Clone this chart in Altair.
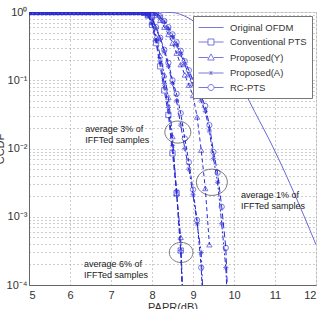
import altair as alt
import pandas as pd

# ---------------- data ----------------
# all PTS curves sit at CCDF = 1 over this PAPR range
plateau_x = [5.0, 5.1, 5.2, 5.3, 5.4, 5.5, 5.6, 5.7, 5.8, 5.9, 6.0, 6.1, 6.2, 6.3,
             6.4, 6.5, 6.6, 6.7, 6.8, 6.9, 7.0, 7.1, 7.2, 7.3, 7.4, 7.5, 7.6, 7.7]

orig_x = [5.0, 8.0, 8.5, 8.8, 9.0, 9.2, 9.5, 9.8, 10.0, 10.27, 10.5, 10.95, 11.5, 12.0]
orig_y = [1.0, 1.0, 0.98, 0.87, 0.74, 0.56, 0.35, 0.2, 0.13, 0.065, 0.035, 0.0105, 0.002, 0.00039]

grpA_x = [7.8, 7.9, 8.0, 8.1, 8.2, 8.3, 8.4, 8.5, 8.6, 8.7, 8.8]
convA_y = [0.98, 0.89, 0.65, 0.35, 0.16, 0.071, 0.031, 0.0085, 0.0022, 0.00032, 1e-5]
propYA_y = [0.98, 0.91, 0.71, 0.43, 0.23, 0.12, 0.056, 0.015, 0.0022, 0.0005, 1e-5]
propAA_y = [0.98, 0.89, 0.68, 0.38, 0.19, 0.089, 0.040, 0.011, 0.0024, 0.00032, 1e-5]

grpB_x = [7.8, 7.9, 8.0, 8.1, 8.2, 8.3, 8.4, 8.5, 8.6, 8.7, 8.8, 8.9, 9.0, 9.1, 9.2, 9.3]
rcB_y = [0.98, 0.95, 0.83, 0.60, 0.42, 0.28, 0.18, 0.10, 0.063, 0.033, 0.014, 0.0063,
         0.0025, 0.00089, 0.00018, 1e-5]
propAB_y = [0.98, 0.95, 0.80, 0.57, 0.40, 0.26, 0.16, 0.09, 0.050, 0.022, 0.010, 0.0050,
            0.0021, 0.00079, 0.0003, 1e-5]

grpC_tri_x = [7.8, 7.9, 8.0, 8.1, 8.2, 8.3, 8.4, 8.5, 8.6, 8.7, 8.8, 8.9, 9.0, 9.1, 9.2, 9.3, 9.4]
propYC_y = [1.0, 0.99, 0.97, 0.89, 0.76, 0.60, 0.47, 0.35, 0.25, 0.17, 0.12, 0.085, 0.060,
            0.029, 0.0095, 0.0026, 0.00039]

grpC_x = [7.8, 7.9, 8.0, 8.1, 8.2, 8.3, 8.4, 8.5, 8.6, 8.7, 8.8, 8.9, 9.0, 9.1, 9.2, 9.3,
          9.4, 9.5, 9.6, 9.7, 9.8, 9.9]
propAC_y = [1.0, 1.0, 0.99, 0.95, 0.85, 0.71, 0.56, 0.43, 0.33, 0.24, 0.17, 0.12, 0.085,
            0.065, 0.050, 0.035, 0.018, 0.0071, 0.0032, 0.00079, 0.00018, 1e-5]
rcC_y = [1.0, 1.0, 0.99, 0.96, 0.87, 0.74, 0.60, 0.47, 0.36, 0.27, 0.19, 0.14, 0.10,
         0.075, 0.058, 0.042, 0.022, 0.0089, 0.0044, 0.0014, 0.00035, 1e-5]

legend_labels = ["Original OFDM", "Conventional PTS", "Proposed(Y)", "Proposed(A)", "RC-PTS"]
marker_methods = ["Conventional PTS", "Proposed(Y)", "Proposed(A)", "RC-PTS"]

y_ticks = [1e-4, 2e-4, 3e-4, 4e-4, 5e-4, 6e-4, 7e-4, 8e-4, 9e-4,
           1e-3, 2e-3, 3e-3, 4e-3, 5e-3, 6e-3, 7e-3, 8e-3, 9e-3,
           1e-2, 2e-2, 3e-2, 4e-2, 5e-2, 6e-2, 7e-2, 8e-2, 9e-2,
           0.1, 0.2, 0.3, 0.4, 0.5, 0.6, 0.7, 0.8, 0.9, 1.0]
x_ticks = [5, 6, 7, 8, 9, 10, 11, 12]

note_text = ["average 3% of\nIFFTed samples", "average 1% of\nIFFTed samples",
             "average 6% of\nIFFTed samples"]
note_x = [6.37, 10.17, 6.34]
note_y = [0.0196, 0.0021, 0.0002]

ring_x = [8.63, 9.46, 8.71]
ring_y = [0.0174, 0.0032, 0.0003]
ring_size = [676, 961, 560]

# ---------------- build tables ----------------
series = [
    ("A-conv", "Conventional PTS", grpA_x, convA_y),
    ("A-propY", "Proposed(Y)", grpA_x, propYA_y),
    ("A-propA", "Proposed(A)", grpA_x, propAA_y),
    ("B-rc", "RC-PTS", grpB_x, rcB_y),
    ("B-propA", "Proposed(A)", grpB_x, propAB_y),
    ("C-propY", "Proposed(Y)", grpC_tri_x, propYC_y),
    ("C-propA", "Proposed(A)", grpC_x, propAC_y),
    ("C-rc", "RC-PTS", grpC_x, rcC_y),
]
rows = []
for sid, meth, xs, ys in series:
    for px in plateau_x:
        rows.append({"series": sid, "method": meth, "papr": px, "ccdf": 1.0})
    for px, py in zip(xs, ys):
        rows.append({"series": sid, "method": meth, "papr": px, "ccdf": py})
pts = pd.DataFrame(rows)
orig = pd.DataFrame({"papr": orig_x, "ccdf": orig_y})
notes = pd.DataFrame({"papr": note_x, "ccdf": note_y, "txt": note_text})
rings = pd.DataFrame({"papr": ring_x, "ccdf": ring_y, "sz": ring_size})
leg = pd.DataFrame({"method": legend_labels, "papr": [5.0] * 5, "ccdf": [1.0] * 5})

BLUE = "#2b2bd6"
FONT = "Liberation Sans"

xs = alt.Scale(domain=[5, 12], nice=False, zero=False)
ys = alt.Scale(type="log", domain=[1e-4, 1], nice=False)

label_expr = ("datum.value > 0.99 ? '10⁰' : abs(datum.value-0.1) < 1e-9 ? '10⁻¹' : "
              "abs(datum.value-0.01) < 1e-10 ? '10⁻²' : abs(datum.value-0.001) < 1e-11 ? '10⁻³' : "
              "abs(datum.value-0.0001) < 1e-12 ? '10⁻⁴' : ''")

X = alt.X("papr:Q", scale=xs, title="PAPR(dB)",
          axis=alt.Axis(values=x_ticks, format="d", grid=True, gridDash=[1, 3],
                        gridColor="#9a9a9a", ticks=False, labelPadding=4,
                        labelFontSize=11, labelColor="#333", labelFont=FONT,
                        titleFont=FONT, titleFontSize=11, titleFontWeight="normal",
                        titleColor="#333", titlePadding=1, domainColor="#666"))
Y = alt.Y("ccdf:Q", scale=ys, title="CCDF",
          axis=alt.Axis(values=y_ticks, labelExpr=label_expr, grid=True, gridDash=[1, 3],
                        gridColor="#9a9a9a", ticks=False, labelOverlap=False,
                        labelPadding=2, labelFontSize=11, labelColor="#333", labelFont=FONT,
                        titleFont=FONT, titleFontSize=11, titleFontWeight="normal",
                        titleColor="#333", titlePadding=1, domainColor="#666"))

orig_line = alt.Chart(orig).mark_line(color="#6a6ad8", strokeWidth=1, clip=True,
                                      interpolate="monotone").encode(x=X, y=Y)

dash_dom = [s[0] for s in series]
dash_rng = [[5, 3], [6, 2, 2, 2], [5, 3], [4, 2], [6, 3, 2, 3], [4, 3], [5, 2, 2, 2], [6, 3]]
lines = alt.Chart(pts).mark_line(color=BLUE, strokeWidth=1, clip=True).encode(
    x=X, y=Y, detail="series:N",
    strokeDash=alt.StrokeDash("series:N", scale=alt.Scale(domain=dash_dom, range=dash_rng),
                              legend=None))

star_path = "M-1,0L1,0M0,-1L0,1M-0.7,-0.7L0.7,0.7M-0.7,0.7L0.7,-0.7"
points = alt.Chart(pts).mark_point(color=BLUE, filled=False, size=28, strokeWidth=0.9,
                                   clip=True).encode(
    x=X, y=Y,
    shape=alt.Shape("method:N", scale=alt.Scale(domain=marker_methods,
                                                range=["square", "triangle-up", star_path, "circle"]),
                    legend=None))

# legend symbols: a 25 px line with the marker; unit = 6 px (symbol size 144)
leg_paths = [
    "M-1,0L3.17,0",
    "M-1,0L0.58,0M1.58,0L3.17,0M0.58,-0.5L1.58,-0.5L1.58,0.5L0.58,0.5Z",
    "M-1,0L0.63,0M1.53,0L3.17,0M1.08,-0.6L1.63,0.42L0.53,0.42Z",
    "M-1,0L3.17,0M0.83,-0.25L1.33,0.25M0.83,0.25L1.33,-0.25M1.08,-0.35L1.08,0.35",
    "M-1,0L0.58,0M1.58,0L3.17,0M0.58,0A0.5,0.5 0 1,0 1.58,0A0.5,0.5 0 1,0 0.58,0",
]
legend_layer = alt.Chart(leg).transform_filter("false").mark_point(
    color="#4040cc", filled=False, size=144, strokeWidth=1).encode(
    x=X, y=Y,
    shape=alt.Shape("method:N", scale=alt.Scale(domain=legend_labels, range=leg_paths),
                    legend=alt.Legend(title=None, orient="top-right", offset=4, padding=5,
                                      fillColor="white", strokeColor="#777",
                                      labelFont=FONT, labelFontSize=9.5, labelColor="#333",
                                      symbolSize=144, symbolStrokeWidth=1,
                                      symbolStrokeColor="#4040cc", symbolFillColor="transparent",
                                      rowPadding=3.5, labelOffset=19)))

ell = "M-1,0A1,0.85 0 1,1 1,0A1,0.85 0 1,1 -1,0"
ring_layer = alt.Chart(rings).mark_point(shape=ell, filled=False, color="#444",
                                         strokeWidth=1).encode(
    x=X, y=Y, size=alt.Size("sz:Q", scale=None))

text_layer = alt.Chart(notes).mark_text(align="left", baseline="middle", font=FONT,
                                        fontSize=9, color="#1a1a1a", lineBreak="\n",
                                        lineHeight=11).encode(x=X, y=Y, text="txt:N")

chart = alt.layer(orig_line, lines, points, ring_layer, text_layer, legend_layer).resolve_scale(
    shape="independent", size="independent").properties(
    width=287, height=273, autosize=alt.AutoSizeParams(type="none"),
    padding={"left": 29, "top": 12, "right": 7, "bottom": 24}).configure_view(
    stroke="#666", strokeWidth=1).configure(background="white")

chart.save("out.html", embed_options={"renderer": "svg", "actions": False})
